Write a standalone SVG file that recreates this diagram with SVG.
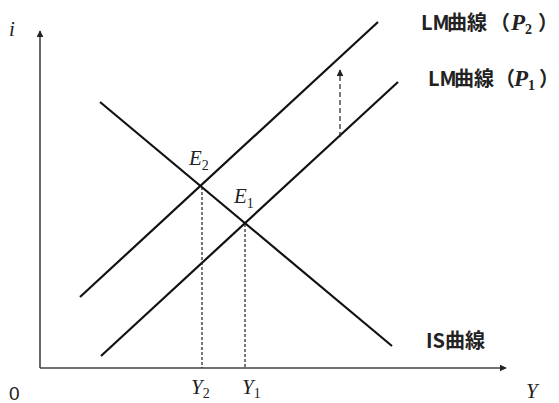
<svg xmlns="http://www.w3.org/2000/svg" width="559" height="403" viewBox="0 0 559 403">
<style>
.ax{stroke:#444;stroke-width:1.6;fill:none}
.ln{stroke:#111;stroke-width:2.2;fill:none}
.dash{stroke:#222;stroke-width:1.2;stroke-dasharray:3,2;fill:none}
.dash2{stroke:#222;stroke-width:1.2;stroke-dasharray:5,3;fill:none}
.lbl{font-family:"Noto Sans CJK JP","Noto Sans",sans-serif;font-weight:bold;font-size:20px;fill:#222}
.m{font-family:"Liberation Serif","DejaVu Serif",serif;font-style:italic;font-size:21px;fill:#222}
.mb{font-family:"Liberation Serif","DejaVu Serif",serif;font-style:italic;font-weight:bold;font-size:23px;fill:#222}
.sub{font-size:14px;font-style:normal}
</style>
<defs>
<marker id="ah" viewBox="0 0 10 10" refX="9" refY="5" markerWidth="7" markerHeight="7" markerUnits="userSpaceOnUse" orient="auto"><path d="M0,0 L10,5 L0,10 z" fill="#222"/></marker>
</defs>
<g id="axes">
<line class="ax" x1="40" y1="368" x2="40" y2="31" marker-end="url(#ah)"/>
<line class="ax" x1="40" y1="368" x2="506" y2="368" marker-end="url(#ah)"/>
<text class="m" x="9" y="36">i</text>
<text x="9" y="400" style="font-family:'Liberation Sans',sans-serif;font-size:19px;fill:#222">0</text>
<text class="m" x="526" y="398">Y</text>
</g>
<g id="connectors">
<line class="ln" x1="80" y1="297" x2="378" y2="22"/>
<line class="ln" x1="101" y1="356" x2="398" y2="82"/>
<line class="ln" x1="100" y1="102" x2="392" y2="346"/>
<line class="dash" x1="202" y1="187" x2="202" y2="368"/>
<line class="dash" x1="245" y1="224" x2="245" y2="368"/>
<line class="dash2" x1="340" y1="137" x2="340" y2="70" marker-end="url(#ah)"/>
</g>
<g id="node-LM2"><text class="lbl" x="421" y="30">LM<tspan x="447">曲線</tspan><tspan x="490">（</tspan><tspan class="mb" x="511">P</tspan><tspan class="mb sub" dy="4">2</tspan><tspan x="538" dy="-4">）</tspan></text></g>
<g id="node-LM1"><text class="lbl" x="428" y="86">LM<tspan x="454">曲線</tspan><tspan x="495">（</tspan><tspan class="mb" x="514">P</tspan><tspan class="mb sub" dy="4">1</tspan><tspan x="539" dy="-4">）</tspan></text></g>
<g id="node-IS"><text class="lbl" x="426" y="348">IS曲線</text></g>
<g id="node-E2"><text class="m" x="189" y="165">E<tspan class="sub" dy="5">2</tspan></text></g>
<g id="node-E1"><text class="m" x="234" y="203">E<tspan class="sub" dy="5">1</tspan></text></g>
<g id="node-Y2"><text class="m" x="191" y="394">Y<tspan class="sub" dy="4">2</tspan></text></g>
<g id="node-Y1"><text class="m" x="242" y="394">Y<tspan class="sub" dy="4">1</tspan></text></g>
</svg>
